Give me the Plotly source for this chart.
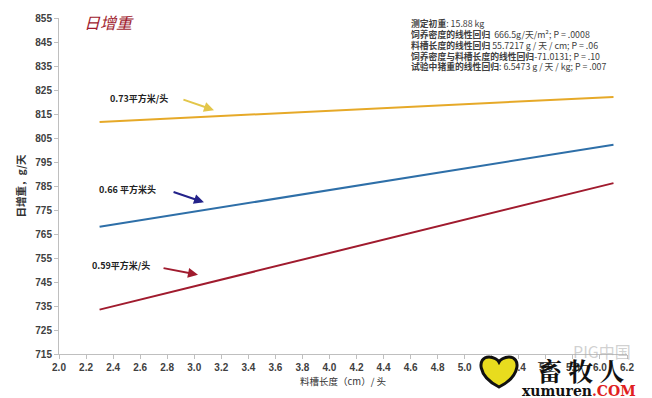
import plotly.graph_objects as go

# Feeder space per pig (m²/头) and fitted daily gain lines vs feeder length
space_labels = ["0.73平方米/头", "0.66 平方米头", "0.59平方米/头"]
feeder_len = [2.3, 6.1]
gain_073 = [811.7, 822.1]
gain_066 = [768.0, 802.2]
gain_059 = [733.5, 786.2]

line_colors = ["#E6A928", "#2E6FA8", "#A01B2E"]
arrow_colors = ["#E3C64A", "#23228A", "#A01B2E"]

x_ticks = [round(2.0 + 0.2 * i, 1) for i in range(22)]
y_ticks = list(range(715, 856, 10))

stats_labels = ["测定初重", "饲养密度的线性回归", "料槽长度的线性回归",
                "饲养密度与料槽长度的线性回归", "试验中猪重的线性回归"]
stats_values = [": 15.88 kg", "  666.5g/天/m²; P = .0008",
                " 55.7217 g / 天 / cm; P = .06", "-71.0131; P = .10",
                ": 6.5473 g / 天 / kg; P = .007"]

fig = go.Figure()
for ys, c in zip([gain_073, gain_066, gain_059], line_colors):
    fig.add_trace(go.Scatter(x=feeder_len, y=ys, mode="lines",
                             line=dict(color=c, width=2), showlegend=False,
                             hoverinfo="skip"))

font_main = "Liberation Sans, Arial, sans-serif"
cjk = "Noto Sans CJK SC, sans-serif"

annotations = []
# line labels with arrows
label_pos = [(2.362, 821.6), (2.281, 783.6), (2.229, 751.8)]
arrows = [((2.909, 821.2), (3.146, 816.6)),
          ((2.836, 782.7), (3.072, 778.2)),
          ((2.762, 750.9), (3.028, 748.0))]
for txt, (lx, ly), ((tx, ty), (hx, hy)), ac in zip(space_labels, label_pos, arrows, arrow_colors):
    annotations.append(dict(x=lx, y=ly, xref="x", yref="y", text=f"<b>{txt}</b>",
                            showarrow=False, xanchor="left", yanchor="middle",
                            font=dict(family=cjk, size=9, color="#222222")))
    annotations.append(dict(x=hx, y=hy, ax=tx, ay=ty, xref="x", yref="y",
                            axref="x", ayref="y", text="", showarrow=True,
                            arrowhead=2, arrowsize=1, arrowwidth=2, arrowcolor=ac))

# chart title
annotations.append(dict(x=2.17, y=853.4, xref="x", yref="y", text="<i>日增重</i>",
                        showarrow=False, xanchor="left", yanchor="middle",
                        font=dict(family=cjk, size=16, color="#A01B2E")))

# regression summary, one row per line
for i, (a, b) in enumerate(zip(stats_labels, stats_values)):
    annotations.append(dict(x=0.617, y=1.0 - (6 + 10.8 * i) / 339, xref="paper", yref="paper",
                            text=f"<b>{a}</b>{b}", showarrow=False,
                            xanchor="left", yanchor="middle", align="left",
                            font=dict(family=cjk, size=8.8, color="#404040")))

# site mark
annotations.append(dict(x=1.01, y=0.009, xref="paper", yref="paper", text="PIG中国",
                        showarrow=False, xanchor="right", yanchor="middle",
                        font=dict(family=cjk, size=16, color="rgba(170,170,170,0.55)")))
annotations.append(dict(x=1.0, y=0.012, xref="paper", yref="paper", text="<b>畜 牧 人</b>",
                        showarrow=False, xanchor="right", yanchor="top",
                        font=dict(family="Noto Serif CJK SC, Noto Sans CJK SC, serif", size=25, color="#111111")))
annotations.append(dict(x=1.02, y=-0.08, xref="paper", yref="paper",
                        text="<b>xumuren</b><span style='color:#E02020'><b>.COM</b></span>",
                        showarrow=False, xanchor="right", yanchor="top",
                        font=dict(family="DejaVu Serif, serif", size=14, color="#111111")))

# heart logo
layout_shapes = [
    dict(type="path", layer="above", xsizemode="pixel", ysizemode="pixel",
         xref="paper", yref="paper", xanchor=0, yanchor=0,
         path=("M 440 -33 C 418 -22 418 -3 430 -3 C 435 -3 439 -6 440 -8 "
               "C 441 -6 445 -3 450 -3 C 462 -3 462 -22 440 -33 Z"),
         fillcolor="#E8DC1E", line=dict(color="#111111", width=3)),
]

fig.update_layout(
    width=652, height=398,
    margin=dict(l=59, r=25, t=16, b=43),
    paper_bgcolor="white", plot_bgcolor="white",
    font=dict(family=font_main, color="#404040"),
    annotations=annotations,
    shapes=layout_shapes,
    xaxis=dict(range=[2.0, 6.2], tickmode="array", tickvals=x_ticks,
               ticktext=[f"{v:.1f}" for v in x_ticks],
               showgrid=False, zeroline=False, showline=True, linecolor="#BFBFBF",
               linewidth=1, ticks="outside", ticklen=4, tickcolor="#BFBFBF",
               tickfont=dict(family=font_main, size=10, color="#404040", weight="bold"),
               title=dict(text="料槽长度（cm）/ 头", standoff=6,
                          font=dict(family=cjk, size=9.5, color="#333333"))),
    yaxis=dict(range=[715, 855], tickmode="array", tickvals=y_ticks,
               showgrid=False, zeroline=False, showline=True, linecolor="#BFBFBF",
               linewidth=1, ticks="outside", ticklen=4, tickcolor="#BFBFBF",
               tickfont=dict(family=font_main, size=10, color="#404040", weight="bold"),
               title=dict(text="<b>日增重，g/天</b>", standoff=7,
                          font=dict(family=cjk, size=10.5, color="#333333"))),
)

fig.write_html("out.html")
